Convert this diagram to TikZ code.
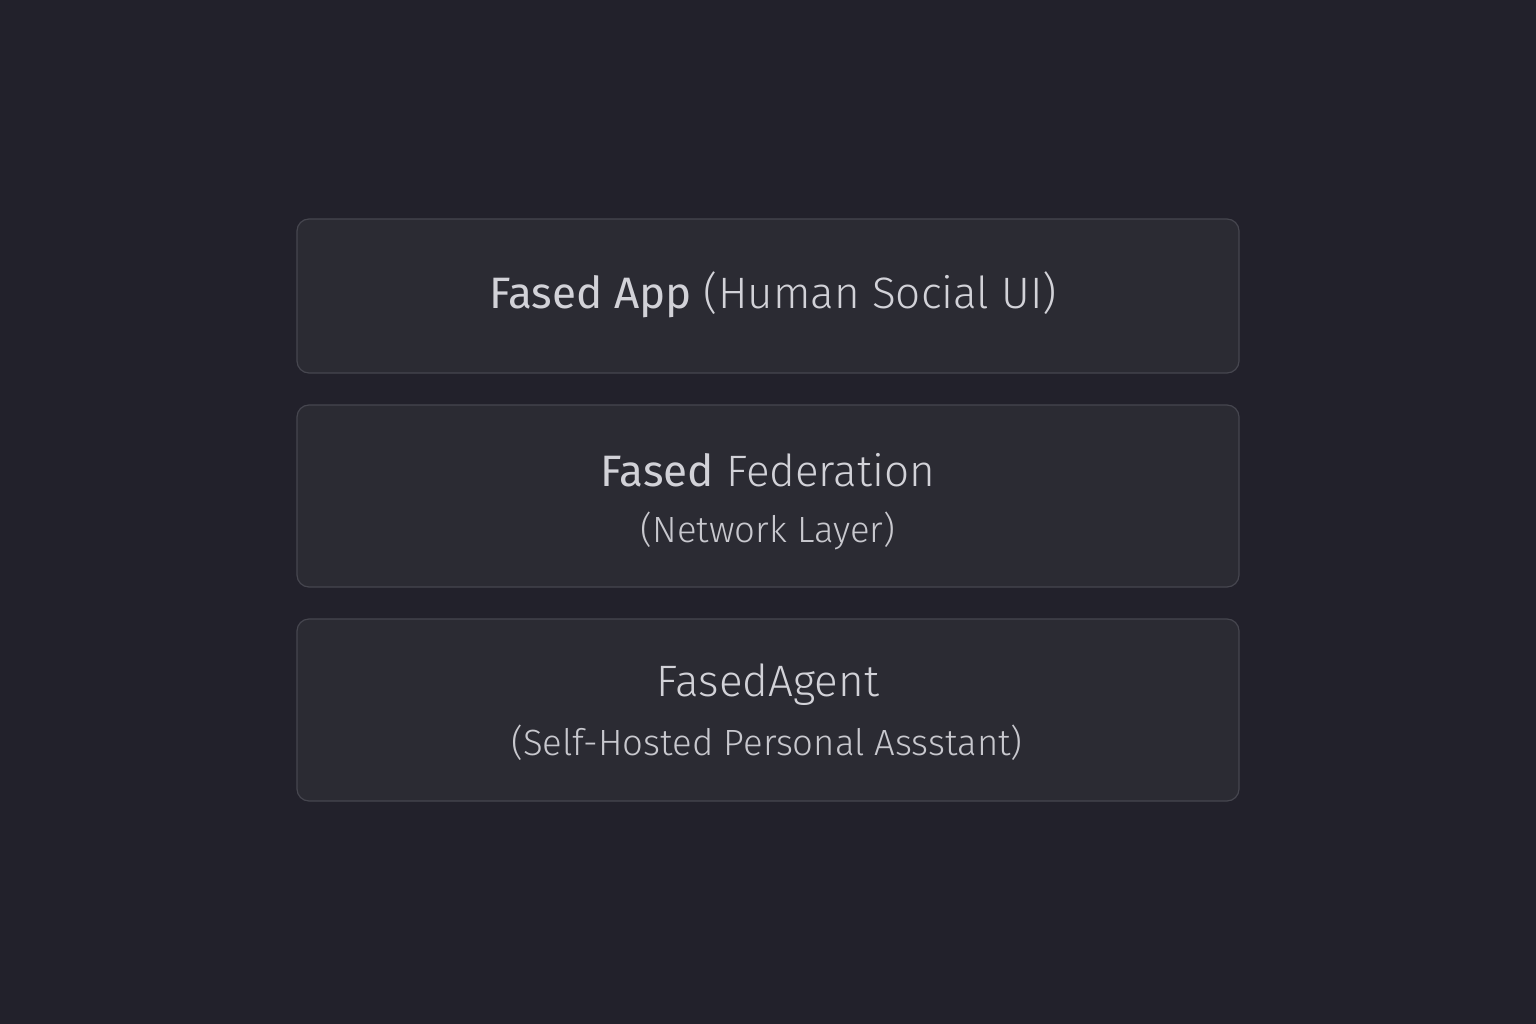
\documentclass[tikz,border=0pt]{standalone}
\usepackage{fontspec}
\setmainfont{Fira Sans}[UprightFont=* Light, BoldFont=* Regular]
\definecolor{bgc}{HTML}{22212B}
\definecolor{boxc}{HTML}{2B2B33}
\definecolor{edgec}{HTML}{46464F}
\definecolor{txtc}{HTML}{D2D2D8}
\definecolor{txtl}{HTML}{C8C8CE}
\tikzset{
  layer/.style={draw=edgec, fill=boxc, line width=1.2pt, rounded corners=12pt, minimum width=942pt, inner sep=0pt},
  big/.style={font=\fontsize{44}{50}\selectfont, text=txtc},
  small/.style={font=\fontsize{36.5}{42}\selectfont, text=txtl},
}
\begin{document}
\begin{tikzpicture}[x=1pt,y=-1pt]
\fill[bgc] (0,0) rectangle (1536,1024);
\useasboundingbox (0,0) rectangle (1536,1024);
\node[layer, minimum height=154pt] (app) at (768,296) {};
\node[layer, minimum height=182pt] (fed) at (768,496) {};
\node[layer, minimum height=182pt] (agent) at (768,710) {};
\node[big] (apptxt) at (773,295) {\textbf{Fased App} (Human Social UI)};
\node[big] (fedtxt) at (768,470) {\textbf{Fased} Federation};
\node[small] (fedsub) at (768,531) {(Network Layer)};
\node[big] (agtxt) at (768,685) {FasedAgent};
\node[small] (agsub) at (767,743) {(Self-Hosted Personal Assstant)};
\end{tikzpicture}
\end{document}
